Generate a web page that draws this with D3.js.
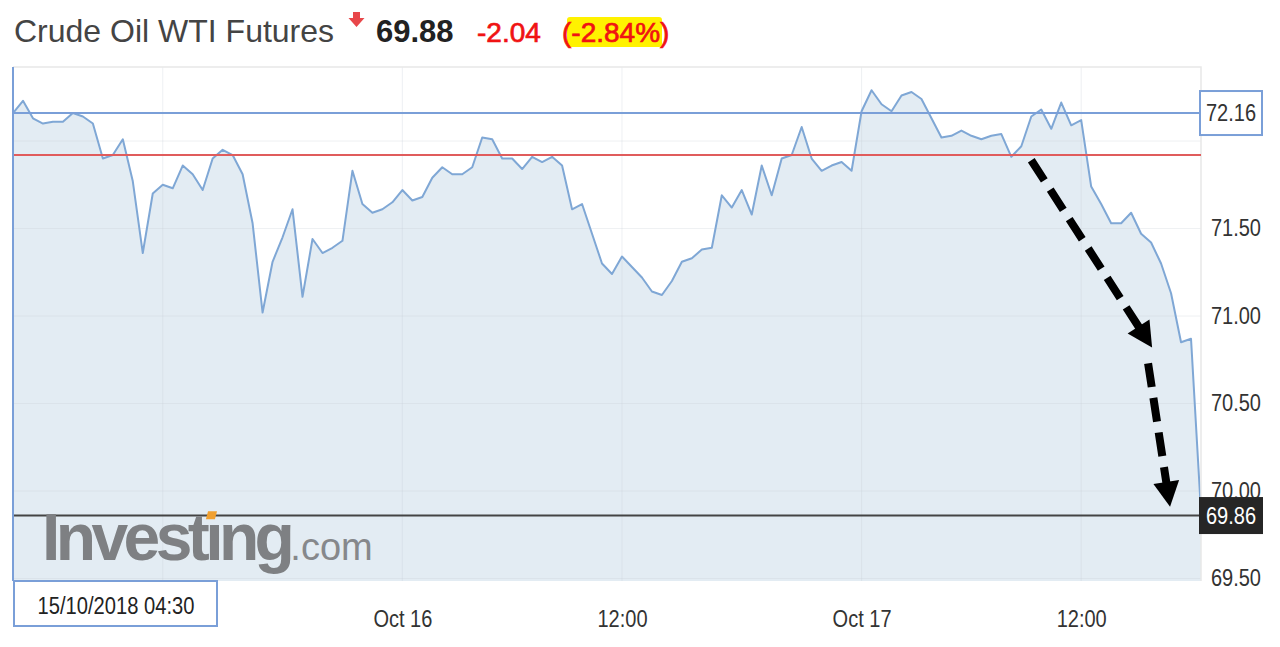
<!DOCTYPE html>
<html>
<head>
<meta charset="utf-8">
<script src="https://cdn.jsdelivr.net/npm/d3@7"></script>
<style>
  body { margin: 0; background: #fff; }
  svg { display: block; font-family: "Liberation Sans", Arial, sans-serif; }
</style>
</head>
<body>
<svg id="chart" width="1280" height="647"></svg>
<script>
// 30 minute closes, 15/10/2018 04:30 onwards
var prices = [
  72.16, 72.23, 72.13, 72.10, 72.11, 72.11, 72.16, 72.14, 72.10, 71.90,
  71.92, 72.01, 71.77, 71.36, 71.70, 71.75, 71.73, 71.86, 71.81, 71.72,
  71.90, 71.95, 71.92, 71.81, 71.53, 71.02, 71.31, 71.45, 71.61, 71.11,
  71.44, 71.36, 71.39, 71.43, 71.83, 71.64, 71.59, 71.61, 71.65, 71.72,
  71.66, 71.68, 71.79, 71.85, 71.81, 71.81, 71.85, 72.02, 72.01, 71.90,
  71.90, 71.84, 71.91, 71.88, 71.91, 71.86, 71.61, 71.64, 71.47, 71.30,
  71.24, 71.34, 71.28, 71.22, 71.14, 71.12, 71.20, 71.31, 71.33, 71.38,
  71.39, 71.69, 71.62, 71.72, 71.58, 71.86, 71.69, 71.90, 71.92, 72.08,
  71.90, 71.83, 71.86, 71.88, 71.83, 72.17, 72.29, 72.21, 72.17, 72.26,
  72.28, 72.24, 72.13, 72.02, 72.03, 72.06, 72.03, 72.01, 72.03, 72.04,
  71.91, 71.97, 72.14, 72.18, 72.07, 72.22, 72.09, 72.12, 71.74, 71.64,
  71.53, 71.53, 71.59, 71.47, 71.42, 71.30, 71.13, 70.85, 70.87, 69.88
];

var yTicks = [69.5, 70, 70.5, 71, 71.5, 72];
var xTicks = [15, 39, 61, 85, 107];
// first tick sits under the date box, so no label there
var xTickLabels = ['', 'Oct 16', '12:00', 'Oct 17', '12:00'];

var prevClose = 71.92,
    lastPrice = 69.86,
    hoverIndex = 0,
    hoverDate = '15/10/2018 04:30';

var header = ['Crude Oil WTI Futures', '69.88', '-2.04', '(-2.84%)'];

// hand drawn arrows, [index, price] pairs
var arrowFrom = [[102.0, 71.89], [113.7, 70.73]];
var arrowTo = [[114.1, 70.82], [115.9, 69.91]];

var svg = d3.select('#chart'),
    plotL = 13, plotR = 1201, plotT = 67, plotB = 581;

var x = d3.scaleLinear().domain([0, prices.length - 1]).range([plotL, plotR]);
var y = d3.scaleLinear().domain([69.486, 72.423]).range([plotB, plotT]);

var lineColor = '#7fa7d5',
    crossColor = '#7a9fd8',
    labelColor = '#333',
    red = '#f01313';

// area
svg.append('path')
  .datum(prices)
  .attr('fill', '#e3ecf3')
  .attr('d', d3.area()
    .x(function (d, i) { return x(i); })
    .y0(plotB)
    .y1(function (d) { return y(d); }));

// grid
svg.append('g')
  .selectAll('line')
  .data(yTicks)
  .enter()
  .append('line')
  .attr('x1', plotL).attr('x2', plotR)
  .attr('y1', function (d) { return y(d); })
  .attr('y2', function (d) { return y(d); })
  .attr('stroke', 'rgba(200,206,214,0.3)');

svg.append('g')
  .selectAll('line')
  .data(xTicks)
  .enter()
  .append('line')
  .attr('y1', plotT).attr('y2', plotB)
  .attr('x1', function (d) { return x(d); })
  .attr('x2', function (d) { return x(d); })
  .attr('stroke', 'rgba(200,206,214,0.3)');

svg.append('path')
  .datum(prices)
  .attr('fill', 'none')
  .attr('stroke', lineColor)
  .attr('stroke-width', 2)
  .attr('stroke-linejoin', 'round')
  .attr('d', d3.line()
    .x(function (d, i) { return x(i); })
    .y(function (d) { return y(d); }));

// plot frame
svg.append('path')
  .attr('d', 'M' + plotL + ',' + plotT + 'H' + plotR + 'V' + plotB)
  .attr('fill', 'none')
  .attr('stroke', '#e8e8e8')
  .attr('stroke-width', 1.5);

// previous close + last price lines
svg.append('line')
  .attr('x1', plotL).attr('x2', plotR)
  .attr('y1', y(prevClose)).attr('y2', y(prevClose))
  .attr('stroke', '#e05c5c')
  .attr('stroke-width', 2);

svg.append('line')
  .attr('x1', plotL).attr('x2', plotR)
  .attr('y1', y(lastPrice)).attr('y2', y(lastPrice))
  .attr('stroke', '#444')
  .attr('stroke-width', 2);

// crosshair at hovered point
svg.append('line')
  .attr('x1', plotL).attr('x2', plotR)
  .attr('y1', y(prices[hoverIndex])).attr('y2', y(prices[hoverIndex]))
  .attr('stroke', crossColor)
  .attr('stroke-width', 2);

svg.append('line')
  .attr('x1', x(hoverIndex)).attr('x2', x(hoverIndex))
  .attr('y1', plotT).attr('y2', plotB)
  .attr('stroke', crossColor)
  .attr('stroke-width', 2);

// watermark
var mark = svg.append('text')
  .attr('x', 42)
  .attr('y', 560);
mark.append('tspan')
  .attr('font-size', 66)
  .attr('font-weight', 'bold')
  .attr('letter-spacing', -4.6)
  .attr('fill', '#7e8083')
  .text('Inves\u0074\u0131ng');
mark.append('tspan')
  .attr('font-size', 38)
  .attr('fill', '#86888b')
  .text('.com');

var iBox = mark.node().getExtentOfChar(6);
svg.append('rect')
  .attr('x', iBox.x + iBox.width / 2 - 5)
  .attr('y', 560 - 66 * 0.74)
  .attr('width', 9)
  .attr('height', 8)
  .attr('transform', 'skewX(-15)')
  .attr('transform-origin', (iBox.x + iBox.width / 2) + ' ' + (560 - 45))
  .attr('fill', '#f0a030');

// arrows
arrowFrom.forEach(function (f, i) {
  var p0 = [x(f[0]), y(f[1])],
      p1 = [x(arrowTo[i][0]), y(arrowTo[i][1])],
      dx = p1[0] - p0[0], dy = p1[1] - p0[1],
      len = Math.sqrt(dx * dx + dy * dy),
      ux = dx / len, uy = dy / len,
      headLen = 25, halfW = 13,
      bx = p1[0] - ux * headLen, by = p1[1] - uy * headLen;

  svg.append('line')
    .attr('x1', p0[0]).attr('y1', p0[1])
    .attr('x2', bx + ux * 2).attr('y2', by + uy * 2)
    .attr('stroke', '#000')
    .attr('stroke-width', 8)
    .attr('stroke-dasharray', '24 11');

  svg.append('path')
    .attr('d', 'M' + p1[0] + ',' + p1[1] +
      'L' + (bx - uy * halfW) + ',' + (by + ux * halfW) +
      'L' + (bx + uy * halfW) + ',' + (by - ux * halfW) + 'Z')
    .attr('fill', '#000');
});

// y axis
var yAxis = svg.append('g')
  .attr('transform', 'translate(1261,0)')
  .call(d3.axisRight(y)
    .tickValues(yTicks)
    .tickSize(0)
    .tickPadding(0)
    .tickFormat(function (d) { return d === 72 ? '' : d3.format('.2f')(d); }));
yAxis.select('.domain').remove();
yAxis.selectAll('text')
  .attr('text-anchor', 'end')
  .attr('font-size', 23)
  .attr('font-family', '"Liberation Sans", Arial, sans-serif')
  .attr('fill', labelColor)
  .attr('transform', 'scale(0.87,1)');

// price boxes
function priceBox(value, fill, stroke, color, h) {
  var g = svg.append('g')
    .attr('transform', 'translate(1231,' + y(value) + ')');
  g.append('rect')
    .attr('x', -31).attr('y', -h / 2)
    .attr('width', 62).attr('height', h)
    .attr('fill', fill)
    .attr('stroke', stroke)
    .attr('stroke-width', 2);
  g.append('text')
    .attr('text-anchor', 'middle')
    .attr('dy', '0.35em')
    .attr('font-size', 23)
    .attr('fill', color)
    .attr('transform', 'scale(0.87,1)')
    .text(d3.format('.2f')(value));
}
priceBox(prices[hoverIndex], '#fff', crossColor, labelColor, 44);
priceBox(lastPrice, '#262626', '#262626', '#fff', 35);

// x axis
var xAxis = svg.append('g')
  .attr('transform', 'translate(0,611)')
  .call(d3.axisBottom(x)
    .tickValues(xTicks)
    .tickSize(0)
    .tickPadding(0)
    .tickFormat(function (d, i) { return xTickLabels[i]; }));
xAxis.select('.domain').remove();
xAxis.selectAll('text')
  .attr('font-size', 23)
  .attr('font-family', '"Liberation Sans", Arial, sans-serif')
  .attr('fill', labelColor)
  .attr('transform', 'scale(0.87,1)');

// hovered date box
var dateBox = svg.append('g')
  .attr('transform', 'translate(' + x(hoverIndex) + ',' + plotB + ')');
dateBox.append('rect')
  .attr('x', 1).attr('y', 0)
  .attr('width', 203).attr('height', 45)
  .attr('fill', '#fff')
  .attr('stroke', crossColor)
  .attr('stroke-width', 2);
dateBox.append('text')
  .attr('x', 103 / 0.84)
  .attr('y', 25)
  .attr('dy', '0.35em')
  .attr('text-anchor', 'middle')
  .attr('font-size', 24)
  .attr('fill', '#222')
  .attr('transform', 'scale(0.84,1)')
  .text(hoverDate);

// header
svg.append('rect')
  .attr('x', 567).attr('y', 17)
  .attr('width', 95).attr('height', 30)
  .attr('rx', 3)
  .attr('fill', '#fff200');

svg.append('path')
  .attr('d', 'M353,12H360V18H364.5L356.5,27L348.5,18H353Z')
  .attr('fill', '#e8474a');

svg.append('text')
  .attr('x', 14).attr('y', 42)
  .attr('font-size', 32)
  .attr('fill', '#444')
  .text(header[0]);

svg.append('text')
  .attr('x', 376).attr('y', 42)
  .attr('font-size', 31)
  .attr('font-weight', 'bold')
  .attr('fill', '#222')
  .text(header[1]);

svg.append('text')
  .attr('x', 477).attr('y', 42)
  .attr('font-size', 28)
  .attr('fill', red)
  .attr('stroke', red)
  .attr('stroke-width', 0.7)
  .text(header[2]);

svg.append('text')
  .attr('x', 562).attr('y', 42)
  .attr('font-size', 28)
  .attr('fill', red)
  .attr('stroke', red)
  .attr('stroke-width', 0.7)
  .text(header[3]);
</script>
</body>
</html>
